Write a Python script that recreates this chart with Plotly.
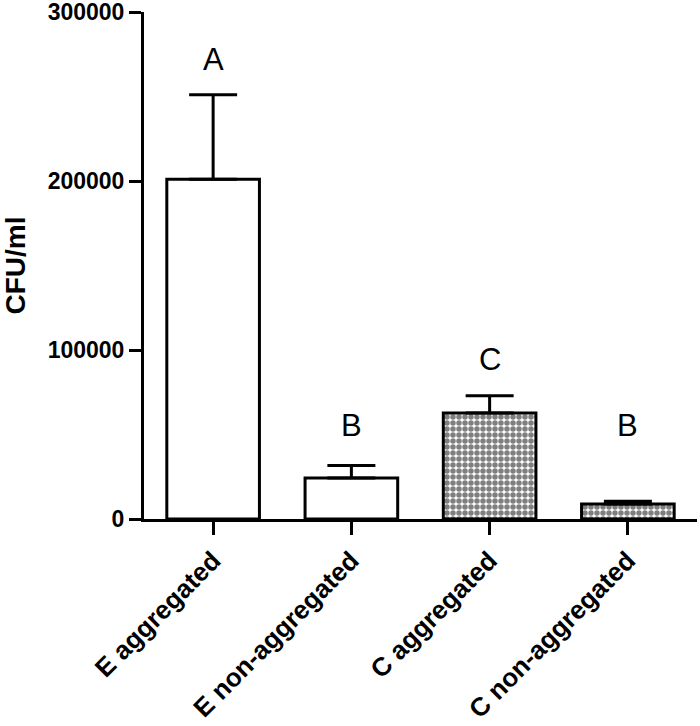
import plotly.graph_objects as go

categories = ["E aggregated", "E non-aggregated", "C aggregated", "C non-aggregated"]
means = [201000, 24300, 62700, 8900]
errors = [50000, 7300, 10200, 1600]
letters = ["A", "B", "C", "B"]
letter_y = [272000, 55100, 94200, 55100]
patterned = [False, False, True, True]
y_ticks = [0, 100000, 200000, 300000]
y_ticktext = ["0", "100000", "200000", "300000"]

FONT = "Arial, Liberation Sans, Helvetica, sans-serif"

fig = go.Figure()
fig.add_trace(go.Bar(
    x=categories,
    y=means,
    width=0.67,
    marker=dict(
        color="white",
        line=dict(color="black", width=3),
        pattern=dict(
            shape=["." if p else "" for p in patterned],
            fgcolor="black",
            bgcolor="white",
            size=6,
            solidity=0.65,
        ),
    ),
    error_y=dict(
        type="data",
        symmetric=False,
        array=errors,
        arrayminus=[0] * len(errors),
        color="black",
        thickness=3,
        width=24,
    ),
    showlegend=False,
))

for c, t, yv in zip(categories, letters, letter_y):
    fig.add_annotation(x=c, y=yv, text=t, showarrow=False,
                       font=dict(family=FONT, size=31, color="black"),
                       xanchor="center", yanchor="middle")

fig.update_layout(
    width=700, height=726,
    margin=dict(l=144, r=3, t=12, b=207),
    paper_bgcolor="white", plot_bgcolor="white",
    font=dict(family=FONT, color="black"),
    bargap=0.33,
)
fig.update_xaxes(
    range=[-0.5, 3.5],
    automargin=False,
    showline=True, linecolor="black", linewidth=3,
    ticks="outside", ticklen=13, tickwidth=3, tickcolor="black",
    tickangle=-45,
    ticklabeloverflow="allow",
    tickfont=dict(family=FONT, size=26, color="black", weight="bold"),
    showgrid=False, zeroline=False,
)
fig.update_yaxes(
    range=[0, 300000],
    automargin=False,
    tickvals=y_ticks, ticktext=y_ticktext,
    showline=True, linecolor="black", linewidth=3,
    ticks="outside", ticklen=12, tickwidth=3, tickcolor="black",
    ticklabeloverflow="allow",
    tickfont=dict(family=FONT, size=23, color="black", weight="bold"),
    title=dict(text="CFU/ml", font=dict(family=FONT, size=28, color="black", weight="bold"), standoff=14),
    showgrid=False, zeroline=False,
)

fig.write_html("out.html", config={"displayModeBar": False},
               post_script="document.body.style.margin='0';")
